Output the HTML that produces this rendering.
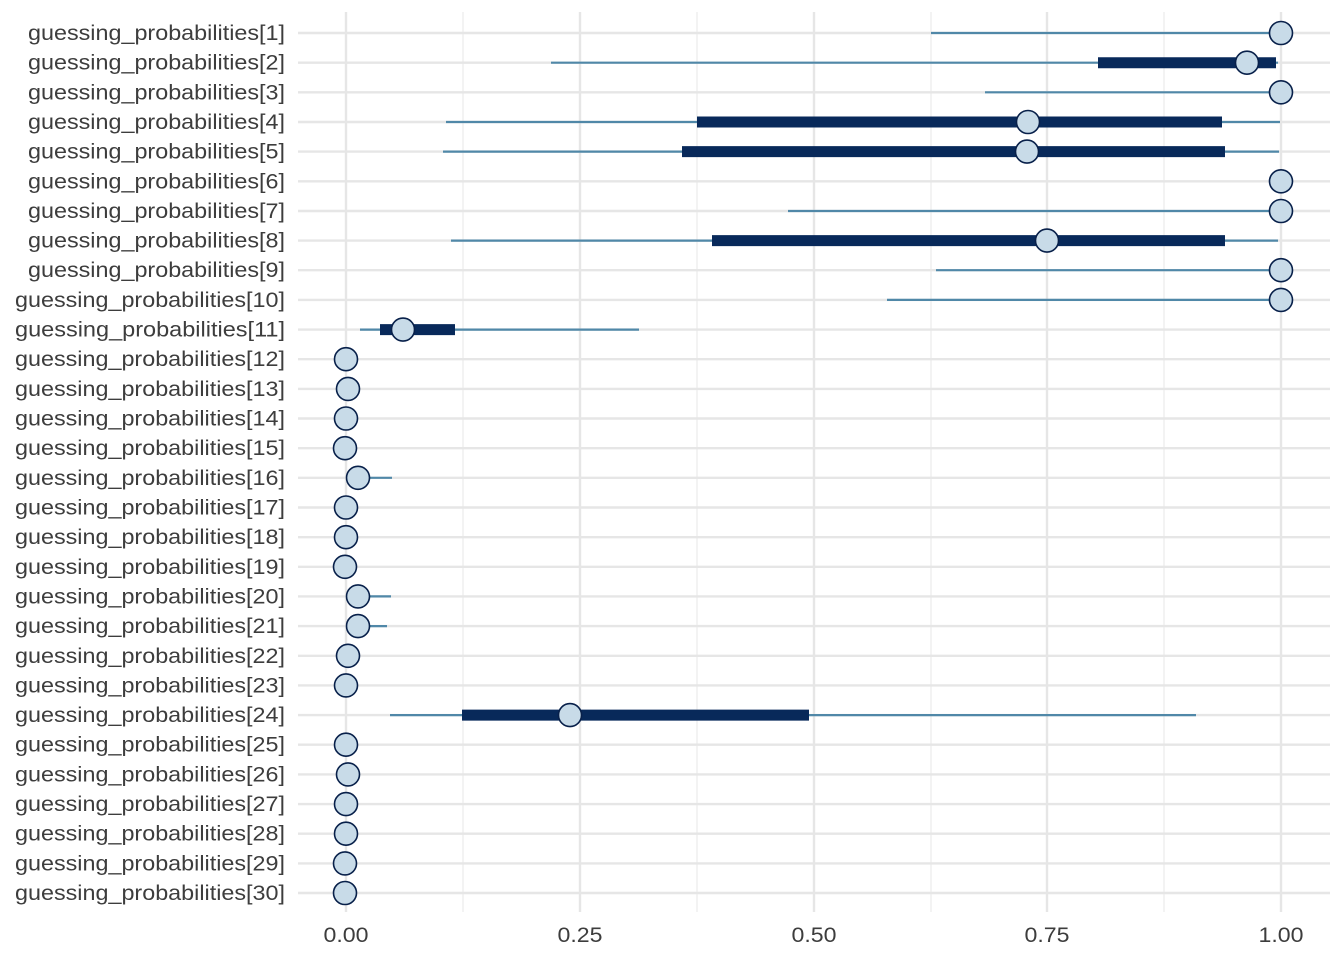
<!DOCTYPE html>
<html><head><meta charset="utf-8"><style>
body{margin:0;background:#fff}
svg{display:block}
text{font-family:"Liberation Sans",Arial,sans-serif;fill:#3d3d3d}
</style></head><body>
<svg width="1344" height="960" viewBox="0 0 1344 960">
<g stroke="#ebebeb" stroke-width="1.2">
<line x1="463" y1="12" x2="463" y2="912"/><line x1="697" y1="12" x2="697" y2="912"/><line x1="931" y1="12" x2="931" y2="912"/><line x1="1164" y1="12" x2="1164" y2="912"/>
</g>
<g stroke="#e6e6e6" stroke-width="2.4">
<line x1="346" y1="12" x2="346" y2="912"/><line x1="580" y1="12" x2="580" y2="912"/><line x1="814" y1="12" x2="814" y2="912"/><line x1="1047" y1="12" x2="1047" y2="912"/><line x1="1281" y1="12" x2="1281" y2="912"/>
<line x1="298" x2="1330" y1="33" y2="33"/><line x1="298" x2="1330" y1="62.7" y2="62.7"/><line x1="298" x2="1330" y1="92.3" y2="92.3"/><line x1="298" x2="1330" y1="122" y2="122"/><line x1="298" x2="1330" y1="151.6" y2="151.6"/><line x1="298" x2="1330" y1="181.3" y2="181.3"/><line x1="298" x2="1330" y1="211" y2="211"/><line x1="298" x2="1330" y1="240.6" y2="240.6"/><line x1="298" x2="1330" y1="270.2" y2="270.2"/><line x1="298" x2="1330" y1="299.9" y2="299.9"/><line x1="298" x2="1330" y1="329.6" y2="329.6"/><line x1="298" x2="1330" y1="359.2" y2="359.2"/><line x1="298" x2="1330" y1="388.9" y2="388.9"/><line x1="298" x2="1330" y1="418.5" y2="418.5"/><line x1="298" x2="1330" y1="448.2" y2="448.2"/><line x1="298" x2="1330" y1="477.8" y2="477.8"/><line x1="298" x2="1330" y1="507.5" y2="507.5"/><line x1="298" x2="1330" y1="537.2" y2="537.2"/><line x1="298" x2="1330" y1="566.8" y2="566.8"/><line x1="298" x2="1330" y1="596.4" y2="596.4"/><line x1="298" x2="1330" y1="626.1" y2="626.1"/><line x1="298" x2="1330" y1="655.8" y2="655.8"/><line x1="298" x2="1330" y1="685.4" y2="685.4"/><line x1="298" x2="1330" y1="715.1" y2="715.1"/><line x1="298" x2="1330" y1="744.7" y2="744.7"/><line x1="298" x2="1330" y1="774.4" y2="774.4"/><line x1="298" x2="1330" y1="804.1" y2="804.1"/><line x1="298" x2="1330" y1="833.7" y2="833.7"/><line x1="298" x2="1330" y1="863.4" y2="863.4"/><line x1="298" x2="1330" y1="893" y2="893"/>
</g>
<g stroke="#5088a8" stroke-width="2.2">
<line x1="931" x2="1281" y1="33" y2="33"/>
<line x1="551" x2="1278" y1="62.7" y2="62.7"/>
<line x1="985" x2="1281" y1="92.3" y2="92.3"/>
<line x1="446" x2="1280" y1="122" y2="122"/>
<line x1="443" x2="1279" y1="151.6" y2="151.6"/>
<line x1="788" x2="1281" y1="211" y2="211"/>
<line x1="451" x2="1278" y1="240.6" y2="240.6"/>
<line x1="936" x2="1281" y1="270.2" y2="270.2"/>
<line x1="887" x2="1281" y1="299.9" y2="299.9"/>
<line x1="360" x2="639" y1="329.6" y2="329.6"/>
<line x1="346" x2="392" y1="477.8" y2="477.8"/>
<line x1="346" x2="391" y1="596.4" y2="596.4"/>
<line x1="346" x2="387" y1="626.1" y2="626.1"/>
<line x1="390" x2="1196" y1="715.1" y2="715.1"/>
</g>
<g stroke="#08295a" stroke-width="11">
<line x1="1098" x2="1276" y1="62.7" y2="62.7"/>
<line x1="697" x2="1222" y1="122" y2="122"/>
<line x1="682" x2="1225" y1="151.6" y2="151.6"/>
<line x1="712" x2="1225" y1="240.6" y2="240.6"/>
<line x1="380" x2="455" y1="329.6" y2="329.6"/>
<line x1="462" x2="809" y1="715.1" y2="715.1"/>
</g>
<g fill="#c8dbe8" stroke="#08204a" stroke-width="1.6">
<circle r="11.5" cx="1281" cy="33"/><circle r="11.5" cx="1247" cy="62.7"/><circle r="11.5" cx="1281" cy="92.3"/><circle r="11.5" cx="1028" cy="122"/><circle r="11.5" cx="1027" cy="151.6"/><circle r="11.5" cx="1281" cy="181.3"/><circle r="11.5" cx="1281" cy="211"/><circle r="11.5" cx="1047" cy="240.6"/><circle r="11.5" cx="1281" cy="270.2"/><circle r="11.5" cx="1281" cy="299.9"/><circle r="11.5" cx="403" cy="329.6"/><circle r="11.5" cx="346" cy="359.2"/><circle r="11.5" cx="348" cy="388.9"/><circle r="11.5" cx="346" cy="418.5"/><circle r="11.5" cx="345" cy="448.2"/><circle r="11.5" cx="358" cy="477.8"/><circle r="11.5" cx="346" cy="507.5"/><circle r="11.5" cx="346" cy="537.2"/><circle r="11.5" cx="345" cy="566.8"/><circle r="11.5" cx="358" cy="596.4"/><circle r="11.5" cx="358" cy="626.1"/><circle r="11.5" cx="348" cy="655.8"/><circle r="11.5" cx="346" cy="685.4"/><circle r="11.5" cx="570" cy="715.1"/><circle r="11.5" cx="346" cy="744.7"/><circle r="11.5" cx="348" cy="774.4"/><circle r="11.5" cx="346" cy="804.1"/><circle r="11.5" cx="346" cy="833.7"/><circle r="11.5" cx="345" cy="863.4"/><circle r="11.5" cx="345" cy="893"/>
</g>
<g font-size="21" text-anchor="start" lengthAdjust="spacingAndGlyphs">
<text x="28" y="40" textLength="257" lengthAdjust="spacingAndGlyphs">guessing_probabilities[1]</text>
<text x="28" y="69.7" textLength="257" lengthAdjust="spacingAndGlyphs">guessing_probabilities[2]</text>
<text x="28" y="99.3" textLength="257" lengthAdjust="spacingAndGlyphs">guessing_probabilities[3]</text>
<text x="28" y="129" textLength="257" lengthAdjust="spacingAndGlyphs">guessing_probabilities[4]</text>
<text x="28" y="158.6" textLength="257" lengthAdjust="spacingAndGlyphs">guessing_probabilities[5]</text>
<text x="28" y="188.3" textLength="257" lengthAdjust="spacingAndGlyphs">guessing_probabilities[6]</text>
<text x="28" y="218" textLength="257" lengthAdjust="spacingAndGlyphs">guessing_probabilities[7]</text>
<text x="28" y="247.6" textLength="257" lengthAdjust="spacingAndGlyphs">guessing_probabilities[8]</text>
<text x="28" y="277.2" textLength="257" lengthAdjust="spacingAndGlyphs">guessing_probabilities[9]</text>
<text x="15" y="306.9" textLength="270" lengthAdjust="spacingAndGlyphs">guessing_probabilities[10]</text>
<text x="15" y="336.6" textLength="270" lengthAdjust="spacingAndGlyphs">guessing_probabilities[11]</text>
<text x="15" y="366.2" textLength="270" lengthAdjust="spacingAndGlyphs">guessing_probabilities[12]</text>
<text x="15" y="395.9" textLength="270" lengthAdjust="spacingAndGlyphs">guessing_probabilities[13]</text>
<text x="15" y="425.5" textLength="270" lengthAdjust="spacingAndGlyphs">guessing_probabilities[14]</text>
<text x="15" y="455.2" textLength="270" lengthAdjust="spacingAndGlyphs">guessing_probabilities[15]</text>
<text x="15" y="484.8" textLength="270" lengthAdjust="spacingAndGlyphs">guessing_probabilities[16]</text>
<text x="15" y="514.5" textLength="270" lengthAdjust="spacingAndGlyphs">guessing_probabilities[17]</text>
<text x="15" y="544.2" textLength="270" lengthAdjust="spacingAndGlyphs">guessing_probabilities[18]</text>
<text x="15" y="573.8" textLength="270" lengthAdjust="spacingAndGlyphs">guessing_probabilities[19]</text>
<text x="15" y="603.4" textLength="270" lengthAdjust="spacingAndGlyphs">guessing_probabilities[20]</text>
<text x="15" y="633.1" textLength="270" lengthAdjust="spacingAndGlyphs">guessing_probabilities[21]</text>
<text x="15" y="662.8" textLength="270" lengthAdjust="spacingAndGlyphs">guessing_probabilities[22]</text>
<text x="15" y="692.4" textLength="270" lengthAdjust="spacingAndGlyphs">guessing_probabilities[23]</text>
<text x="15" y="722.1" textLength="270" lengthAdjust="spacingAndGlyphs">guessing_probabilities[24]</text>
<text x="15" y="751.7" textLength="270" lengthAdjust="spacingAndGlyphs">guessing_probabilities[25]</text>
<text x="15" y="781.4" textLength="270" lengthAdjust="spacingAndGlyphs">guessing_probabilities[26]</text>
<text x="15" y="811.1" textLength="270" lengthAdjust="spacingAndGlyphs">guessing_probabilities[27]</text>
<text x="15" y="840.7" textLength="270" lengthAdjust="spacingAndGlyphs">guessing_probabilities[28]</text>
<text x="15" y="870.4" textLength="270" lengthAdjust="spacingAndGlyphs">guessing_probabilities[29]</text>
<text x="15" y="900" textLength="270" lengthAdjust="spacingAndGlyphs">guessing_probabilities[30]</text>
</g>
<g font-size="21">
<text x="323.5" y="942" textLength="45" lengthAdjust="spacingAndGlyphs">0.00</text><text x="557.5" y="942" textLength="45" lengthAdjust="spacingAndGlyphs">0.25</text><text x="791.5" y="942" textLength="45" lengthAdjust="spacingAndGlyphs">0.50</text><text x="1024.5" y="942" textLength="45" lengthAdjust="spacingAndGlyphs">0.75</text><text x="1258.5" y="942" textLength="45" lengthAdjust="spacingAndGlyphs">1.00</text>
</g>
</svg>
</body></html>
